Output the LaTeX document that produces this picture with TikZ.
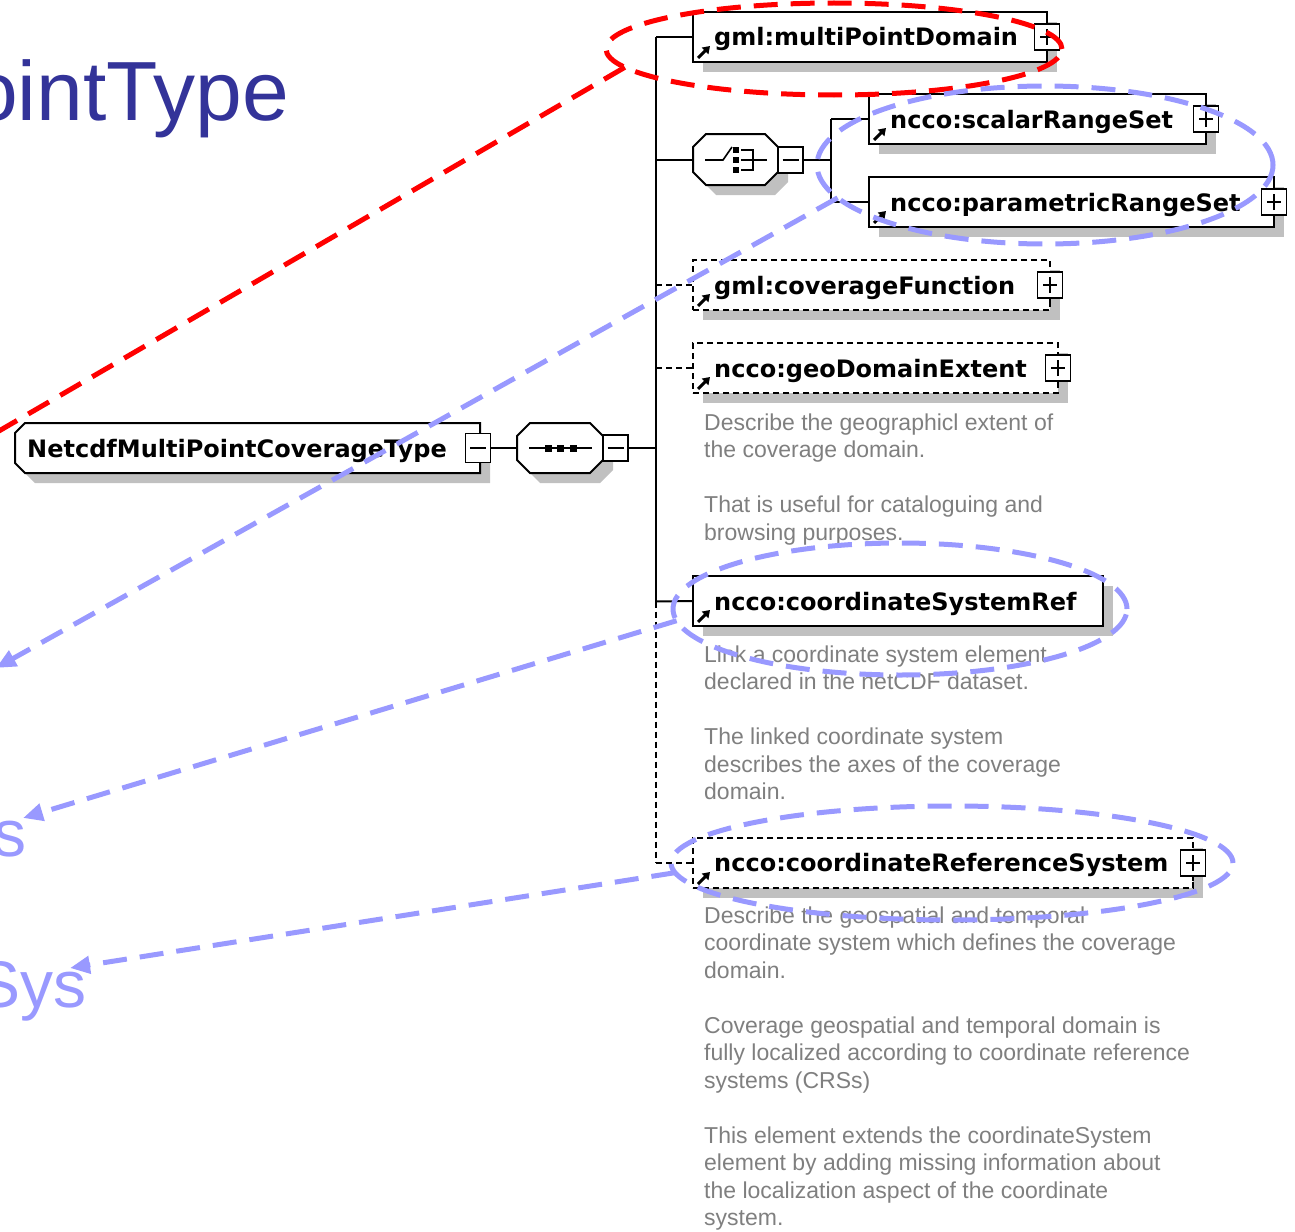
\documentclass[tikz,border=0pt]{standalone}
\usepackage{fontspec}
\usetikzlibrary{arrows.meta,shapes.geometric,shadows}
\newfontfamily\lblfam{DejaVu Sans}
\newfontfamily\descfam{Liberation Sans}
\definecolor{titleblue}{HTML}{333399}
\definecolor{annblue}{HTML}{9999FF}
\definecolor{annred}{HTML}{FF0000}
\definecolor{shadowgray}{HTML}{C0C0C0}
\definecolor{descgray}{HTML}{7F7F7F}
% octagon outline: x1 y1 x2 y2 chamfer
\newcommand\myoctpath[5]{(#1+#5,#2) -- (#3-#5,#2) -- (#3,#2+#5) -- (#3,#4-#5) -- (#3-#5,#4) -- (#1+#5,#4) -- (#1,#4-#5) -- (#1,#2+#5) -- cycle}
\newcommand\myrootpath{(15,433) -- (25,423) -- (480,423) -- (480,473) -- (25,473) -- (15,463) -- cycle}
\begin{document}
\begin{tikzpicture}[x=1pt,y=-1pt,
  shd/.style={drop shadow={shadow xshift=10pt,shadow yshift=-10pt,fill=shadowgray,opacity=1}},
  elem/.style={draw=black,line width=2pt,fill=white,inner sep=0pt,outer sep=0pt,anchor=north west,minimum height=50pt,shd},
  optelem/.style={elem,line width=1.6pt,dash pattern=on 6pt off 4pt},
  anchorbox/.style={inner sep=0pt,outer sep=0pt,anchor=north west},
  shapeline/.style={draw=black,line width=2pt,fill=white},
  shapeshadow/.style={fill=shadowgray,shift={(10,10)}},
  pmbox/.style={draw=black,line width=1.6pt,fill=white,minimum width=25pt,minimum height=26pt,inner sep=0pt,outer sep=0pt},
  plusbox/.style={pmbox,path picture={
     \draw[line width=1.6pt] ([xshift=-7pt]path picture bounding box.center) -- ([xshift=7pt]path picture bounding box.center);
     \draw[line width=1.6pt] ([yshift=-8pt]path picture bounding box.center) -- ([yshift=8pt]path picture bounding box.center);}},
  minusbox/.style={pmbox,path picture={
     \draw[line width=1.6pt] ([xshift=-8pt]path picture bounding box.center) -- ([xshift=8pt]path picture bounding box.center);}},
  conn/.style={line width=2pt,draw=black},
  optconn/.style={line width=1.6pt,draw=black,dash pattern=on 6pt off 4pt},
  icon/.style={line width=3pt,-{Triangle[length=7pt,width=9pt]}},
  lbl/.style={font=\lblfam\bfseries\fontsize{24}{28}\selectfont,anchor=base west,inner sep=0pt},
  desc/.style={font=\descfam\fontsize{23}{27.5}\selectfont,text=descgray,anchor=base west,inner sep=0pt},
  bigblue/.style={font=\descfam\fontsize{66}{70}\selectfont,text=annblue,anchor=base east,inner sep=0pt},
  titletxt/.style={font=\descfam\fontsize{84}{90}\selectfont,text=titleblue,anchor=base east,inner sep=0pt},
  annell/.style={ellipse,line width=5pt,dash pattern=on 24pt off 13pt,inner sep=0pt,outer sep=0pt},
  annline/.style={line width=5pt,dash pattern=on 24pt off 13pt},
  annarrow/.style={annline,draw=annblue,-{Triangle[length=20pt,width=17pt]}}
]
\useasboundingbox (0,0) rectangle (1295,1231);
\clip (0,0) rectangle (1295,1231);

% ---- title fragments
\node[titletxt] (title) at (289,120) {PointType};
\node[bigblue] (stxt) at (27,856) {s};
\node[bigblue] (systxt) at (87,1007) {Sys};

% ---- bus coordinates
\coordinate (busTop) at (656,37);
\coordinate (busCSR) at (656,601.5);
\coordinate (busCRS) at (656,863);
\coordinate (cj) at (831,160);

% ---- root and sequence (drawn shapes, named anchor boxes)
\fill[shapeshadow] \myrootpath;
\draw[shapeline] \myrootpath;
\node[anchorbox,minimum width=465pt,minimum height=50pt] (root) at (15,423) {};
\node[lbl] (rootlbl) at (27,457) {NetcdfMultiPointCoverageType};
\node[minusbox,minimum height=29pt] (rootm) at (478,448) {};

\fill[shapeshadow] \myoctpath{517}{423}{603}{473}{13};
\draw[shapeline] \myoctpath{517}{423}{603}{473}{13};
\node[anchorbox,minimum width=86pt,minimum height=50pt] (seq) at (517,423) {};
\node[minusbox,anchor=west] (seqm) at (603,448) {};
\draw[line width=1.6pt] (529,448) -- (592,448);
\fill (545,445) rectangle (552,452);
\fill (557,445) rectangle (564,452);
\fill (570,445) rectangle (577,452);

\draw[conn] (rootm.east) -- (seq.west);
\draw[conn] (seqm.east) -- (seqm.east -| busTop);
\draw[conn] (busTop) -- (busCSR);
\draw[optconn] (busCSR) -- (busCRS);

% ---- choice compositor
\fill[shapeshadow] \myoctpath{693}{134}{778}{185}{13};
\draw[shapeline] \myoctpath{693}{134}{778}{185}{13};
\node[anchorbox,minimum width=85pt,minimum height=51pt] (choice) at (693,134) {};
\node[minusbox,anchor=west] (choicem) at (778,160) {};
\draw[line width=1.6pt] (705,160) -- (723,160) -- (732,147);
\fill (733,147) rectangle (739,153);
\fill (733,157) rectangle (739,163);
\fill (733,167) rectangle (739,173);
\draw[line width=1.6pt] (741,150) -- (753,150) -- (753,170) -- (741,170);
\draw[line width=1.6pt] (741,160) -- (767,160);

% ---- element boxes
\node[elem,minimum width=354pt] (mpd) at (693,12) {};
\node[elem,minimum width=337pt] (srs) at (869,94) {};
\node[elem,minimum width=405pt] (prs) at (869,177) {};
\node[optelem,minimum width=357pt] (cf) at (693,260) {};
\node[optelem,minimum width=365pt] (gde) at (693,343) {};
\node[elem,minimum width=410pt] (csr) at (693,576) {};
\node[optelem,minimum width=500pt] (crs) at (693,838) {};

% branches
\draw[conn] (busTop) -- (mpd.west);
\draw[conn] (choice.west -| busTop) -- (choice.west);
\draw[optconn] (cf.west -| busTop) -- (cf.west);
\draw[optconn] (gde.west -| busTop) -- (gde.west);
\draw[conn] (busCSR) -- (csr.west);
\draw[optconn] (busCRS) -- (crs.west);
\draw[conn] (choicem.east) -- (cj);
\draw[conn] (srs.west -| cj) -- (prs.west -| cj);
\draw[conn] (srs.west -| cj) -- (srs.west);
\draw[conn] (prs.west -| cj) -- (prs.west);

% labels
\node[lbl] (mpdl) at (714,45.5) {gml:multiPointDomain};
\node[lbl] (srsl) at (890,128) {ncco:scalarRangeSet};
\node[lbl] (prsl) at (890,211) {ncco:parametricRangeSet};
\node[lbl] (cfl) at (714,294) {gml:coverageFunction};
\node[lbl] (gdel) at (714,377) {ncco:geoDomainExtent};
\node[lbl] (csrl) at (714,610) {ncco:coordinateSystemRef};
\node[lbl] (crsl) at (714,871.5) {ncco:coordinateReferenceSystem};

% reference icons
\foreach \b in {mpd,srs,prs,cf,gde,csr,crs}{
  \draw[icon] ([xshift=5pt,yshift=4pt]\b.south west) -- ++(12,-12);
}

% plus boxes
\foreach \b in {mpd,srs,prs,cf,gde,crs}{
  \node[plusbox] (\b p) at (\b.east) {};
  \draw[line width=1.6pt] (\b p.south) -- ++(0,5);
}

% descriptions
\node[desc] (gd1) at (704,430) {Describe the geographicl extent of};
\node[desc] (gd2) at (704,457.5) {the coverage domain.};
\node[desc] (gd3) at (704,512.5) {That is useful for cataloguing and};
\node[desc] (gd4) at (704,540) {browsing purposes.};

\node[desc] (cs1) at (704,662) {Link a coordinate system element};
\node[desc] (cs2) at (704,689.5) {declared in the netCDF dataset.};
\node[desc] (cs3) at (704,744.5) {The linked coordinate system};
\node[desc] (cs4) at (704,772) {describes the axes of the coverage};
\node[desc] (cs5) at (704,799.5) {domain.};

\node[desc] (cr1) at (704,923) {Describe the geospatial and temporal};
\node[desc] (cr2) at (704,950.5) {coordinate system which defines the coverage};
\node[desc] (cr3) at (704,978) {domain.};
\node[desc] (cr4) at (704,1033) {Coverage geospatial and temporal domain is};
\node[desc] (cr5) at (704,1060.5) {fully localized according to coordinate reference};
\node[desc] (cr6) at (704,1088) {systems (CRSs)};
\node[desc] (cr7) at (704,1143) {This element extends the coordinateSystem};
\node[desc] (cr8) at (704,1170.5) {element by adding missing information about};
\node[desc] (cr9) at (704,1198) {the localization aspect of the coordinate};
\node[desc] (cr10) at (704,1225.5) {system.};

% ---- annotation overlay
\node[annell,draw=annred,minimum width=456pt,minimum height=92pt] (redell) at (834,49) {};
\node[annell,draw=annblue,minimum width=456pt,minimum height=158pt] (bell1) at (1045,165) {};
\node[annell,draw=annblue,minimum width=454pt,minimum height=132pt] (bell2) at (900,609) {};
\node[annell,draw=annblue,minimum width=562pt,minimum height=114pt] (bell3) at (952,863) {};

\coordinate (redEnd) at (-20,442);
\coordinate (tip1) at (-4,668);
\coordinate (tip2) at (23,818);
\coordinate (tip3) at (70,968);
\draw[annline,draw=annred] (redell.185) -- (redEnd);
\draw[annarrow] (bell1.189) -- (tip1);
\draw[annarrow] (bell2.183) -- (tip2);
\draw[annarrow] (bell3.182) -- (tip3);
\end{tikzpicture}
\end{document}
